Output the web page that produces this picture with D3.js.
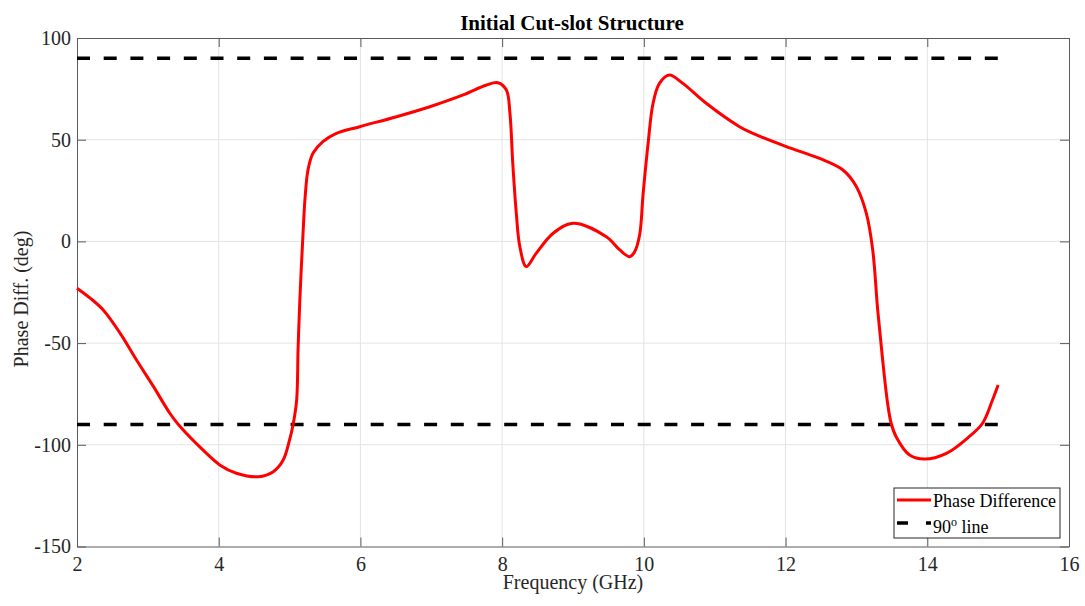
<!DOCTYPE html>
<html>
<head>
<meta charset="utf-8">
<script src="https://cdn.jsdelivr.net/npm/d3@7"></script>
<style>
  body { margin: 0; background: #fff; }
  text { font-family: "Liberation Serif", "Times New Roman", serif; }
</style>
</head>
<body>
<svg id="chart" width="1085" height="606"></svg>
<script>
// frequency (GHz) and phase difference (deg)
var freq = [2, 2.19, 2.37, 2.61, 2.84, 3.08, 3.31, 3.43, 3.78, 4.02, 4.25, 4.56, 4.77, 4.91, 5.0, 5.05, 5.10, 5.12, 5.145, 5.19, 5.22, 5.26, 5.33, 5.47, 5.66, 5.99, 6.51, 6.98, 7.45, 7.78, 7.94, 8.06, 8.11, 8.15, 8.2, 8.25, 8.34, 8.48, 8.72, 9.0, 9.47, 9.66, 9.8, 9.87, 9.94, 9.99, 10.06, 10.13, 10.22, 10.36, 10.55, 10.88, 11.35, 11.54, 12.01, 12.48, 12.81, 13.0, 13.14, 13.23, 13.30, 13.37, 13.44, 13.49, 13.56, 13.75, 13.96, 14.27, 14.59, 14.78, 14.92, 15.0];
var phase = [-23, -28, -33.7, -45.2, -58.3, -71.4, -84.5, -90, -102.6, -110, -114, -115.7, -113.2, -107.5, -97.6, -90, -78, -53, -28.8, 4, 22, 35.1, 43.3, 49, 53.1, 56.4, 61.3, 66.2, 72, 76.9, 78, 74.4, 63, 38.4, 13.8, -2.6, -12.4, -5.9, 4, 8.9, 2.3, -4.2, -7.5, -5.1, 3.1, 23.6, 48.2, 67.9, 77.7, 81.8, 77.7, 67.9, 56.4, 53.1, 46.6, 40.8, 35.1, 26.9, 13.8, -4.2, -33.7, -58.3, -79.6, -89.4, -96, -105, -107, -104.2, -96, -89.4, -78, -70.6];
var refLevels = [90, -90];
var refRange = [2, 15];
var xTicks = [2, 4, 6, 8, 10, 12, 14, 16];
var yTicks = [-150, -100, -50, 0, 50, 100];

var svg = d3.select("#chart");
var pLeft = 77, pRight = 1069, pTop = 38, pBottom = 546.5;

var x = d3.scaleLinear().domain([2, 16]).range([pLeft, pRight]);
var y = d3.scaleLinear().domain([-150, 100]).range([pBottom, pTop]);

// grid
svg.append("g").selectAll("line").data(xTicks.slice(1, -1)).enter().append("line")
    .attr("x1", function (d) { return x(d); }).attr("x2", function (d) { return x(d); })
    .attr("y1", pTop).attr("y2", pBottom)
    .attr("stroke", "#e3e3e3").attr("stroke-width", 1);
svg.append("g").selectAll("line").data(yTicks.slice(1, -1)).enter().append("line")
    .attr("y1", function (d) { return y(d); }).attr("y2", function (d) { return y(d); })
    .attr("x1", pLeft).attr("x2", pRight)
    .attr("stroke", "#e3e3e3").attr("stroke-width", 1);

// axes (ticks inside, like matlab)
var axisColor = "#5a5a5a";
var plain = function (d) { return String(d); };
var xAxis = svg.append("g").attr("transform", "translate(0," + pBottom + ")")
    .call(d3.axisBottom(x).tickValues(xTicks).tickFormat(plain).tickSizeInner(-9).tickSizeOuter(0).tickPadding(10));
var xAxisTop = svg.append("g").attr("transform", "translate(0," + pTop + ")")
    .call(d3.axisTop(x).tickValues(xTicks).tickSizeInner(-9).tickSizeOuter(0).tickFormat(""));
var yAxis = svg.append("g").attr("transform", "translate(" + pLeft + ",0)")
    .call(d3.axisLeft(y).tickValues(yTicks).tickFormat(plain).tickSizeInner(-9).tickSizeOuter(0).tickPadding(6));
var yAxisRight = svg.append("g").attr("transform", "translate(" + pRight + ",0)")
    .call(d3.axisRight(y).tickValues(yTicks).tickSizeInner(-9).tickSizeOuter(0).tickFormat(""));

[xAxis, xAxisTop, yAxis, yAxisRight].forEach(function (a) {
    a.select(".domain").attr("stroke", axisColor);
    a.selectAll(".tick line").attr("stroke", axisColor);
    a.selectAll(".tick text").attr("fill", "#262626")
        .style("font-family", "'Liberation Serif', serif").style("font-size", "20px");
});

// 90 deg reference lines
svg.append("g").selectAll("line").data(refLevels).enter().append("line")
    .attr("x1", x(refRange[0])).attr("x2", x(refRange[1]))
    .attr("y1", function (d) { return y(d); }).attr("y2", function (d) { return y(d); })
    .attr("stroke", "#000").attr("stroke-width", 3.5)
    .attr("stroke-dasharray", "13,13.7");

// phase curve
var line = d3.line()
    .x(function (d, i) { return x(freq[i]); })
    .y(function (d) { return y(d); })
    .curve(d3.curveCatmullRom.alpha(0.5));

svg.append("path")
    .datum(phase)
    .attr("fill", "none")
    .attr("stroke", "#ff0000")
    .attr("stroke-width", 3)
    .attr("stroke-linejoin", "round")
    .attr("d", line);

// labels
svg.append("text").attr("x", 572).attr("y", 30)
    .attr("text-anchor", "middle").style("font-size", "21px").style("font-weight", "bold")
    .attr("fill", "#000").text("Initial Cut-slot Structure");
svg.append("text").attr("x", 573).attr("y", 589)
    .attr("text-anchor", "middle").style("font-size", "20px").attr("fill", "#262626")
    .text("Frequency (GHz)");
svg.append("text").attr("transform", "translate(28,299) rotate(-90)")
    .attr("text-anchor", "middle").style("font-size", "20px").attr("fill", "#262626")
    .text("Phase Diff. (deg)");

// legend
var lg = svg.append("g");
lg.append("rect").attr("x", 894).attr("y", 488).attr("width", 166).attr("height", 50)
    .attr("fill", "#fff").attr("stroke", "#262626").attr("stroke-width", 1);
lg.append("line").attr("x1", 897).attr("x2", 931).attr("y1", 500).attr("y2", 500)
    .attr("stroke", "#ff0000").attr("stroke-width", 3);
lg.append("line").attr("x1", 897).attr("x2", 931).attr("y1", 523).attr("y2", 523)
    .attr("stroke", "#000").attr("stroke-width", 3.5).attr("stroke-dasharray", "11,18,6");
lg.append("text").attr("x", 933).attr("y", 507).style("font-size", "18px").attr("fill", "#000")
    .text("Phase Difference");
var t2 = lg.append("text").attr("x", 933).attr("y", 533).style("font-size", "18px").attr("fill", "#000");
t2.append("tspan").text("90");
t2.append("tspan").attr("dy", -7).style("font-size", "12px").text("o");
t2.append("tspan").attr("dy", 7).text(" line");
</script>
</body>
</html>
